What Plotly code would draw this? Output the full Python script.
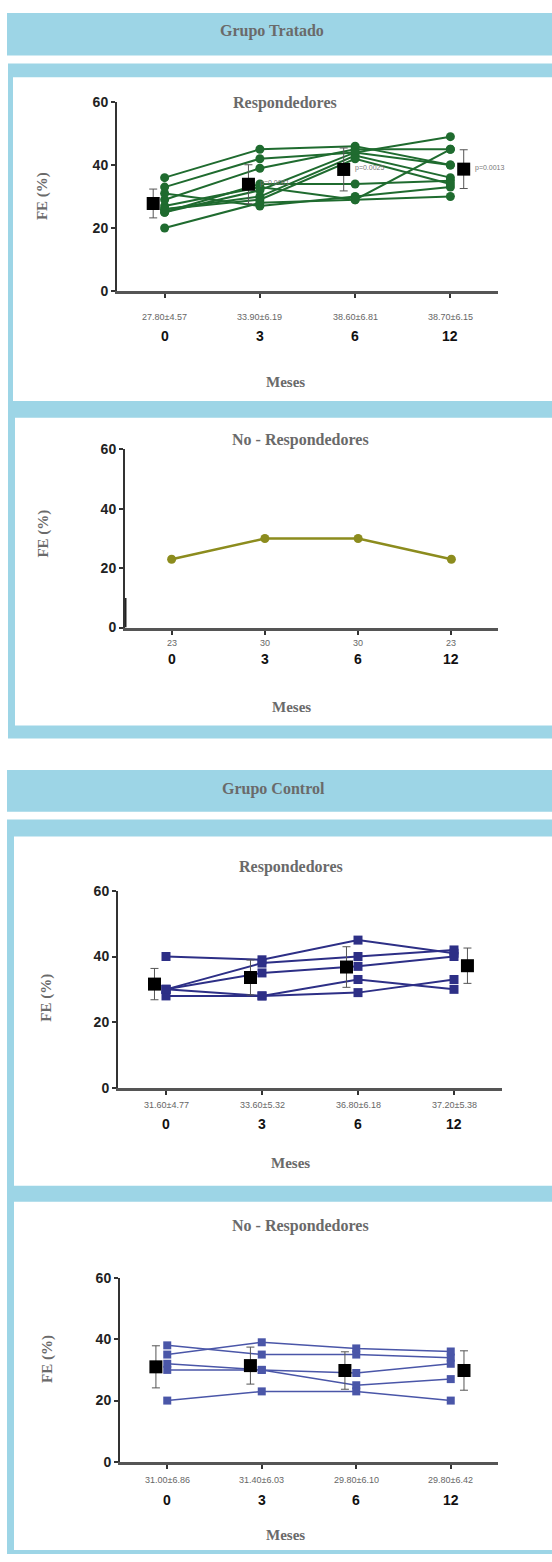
import plotly.graph_objects as go

W, H = 552, 1562
MONTHS = ["0", "3", "6", "12"]

# Grupo Tratado - Respondedores: FE (%) per patient at 0, 3, 6, 12 months
trat_resp = [
    [36, 45, 46, 40],
    [33, 42, 44, 49],
    [31, 27, 30, 33],
    [29, 39, 45, 45],
    [27, 33, 29, 30],
    [26, 30, 43, 36],
    [25, 34, 34, 35],
    [25, 32, 44, 40],
    [26, 29, 42, 34],
    [20, 28, 29, 45],
]
trat_resp_mean = [27.80, 33.90, 38.60, 38.70]
trat_resp_sd = [4.57, 6.19, 6.81, 6.15]
trat_resp_p = ["", "p=0.0081", "p=0.0025", "p=0.0013"]

# Grupo Tratado - No Respondedores
trat_noresp = [23, 30, 30, 23]

# Grupo Control - Respondedores
ctrl_resp = [
    [40, 39, 45, 41],
    [30, 38, 40, 42],
    [30, 35, 37, 40],
    [28, 28, 29, 33],
    [30, 28, 33, 30],
]
ctrl_resp_mean = [31.60, 33.60, 36.80, 37.20]
ctrl_resp_sd = [4.77, 5.32, 6.18, 5.38]

# Grupo Control - No Respondedores
ctrl_noresp = [
    [38, 35, 35, 34],
    [35, 39, 37, 36],
    [32, 30, 25, 27],
    [30, 30, 29, 32],
    [20, 23, 23, 20],
]
ctrl_noresp_mean = [31.00, 31.40, 29.80, 29.80]
ctrl_noresp_sd = [6.86, 6.03, 6.10, 6.42]

# ---------------------------------------------------------------- styling
BLUE = "#9dd5e6"
SERIF = "Liberation Serif"
SANS = "Liberation Sans"
TITLE_GRAY = "#6a6a6a"
MEAN_SHIFT = [-0.12, -0.12, -0.12, 0.14]
XPOS = [0, 1, 2, 3]


def px(x):
    return x / W


def py(y):
    return 1 - y / H


fig = go.Figure()
shapes = []
annotations = []


def rect(x0, y0, x1, y1, color):
    shapes.append(dict(type="rect", xref="paper", yref="paper",
                       x0=px(x0), x1=px(x1), y0=py(y1), y1=py(y0),
                       fillcolor=color, line=dict(width=0), layer="below"))


def text(x, y, s, size=16, color=TITLE_GRAY, family=SERIF, angle=0):
    annotations.append(dict(xref="paper", yref="paper", x=px(x), y=py(y),
                            text=s, showarrow=False, textangle=angle,
                            xanchor="center", yanchor="middle",
                            font=dict(family=family, size=size, color=color)))


# panels
rect(7, 5, 552, 48, BLUE)
rect(8, 56, 552, 738, BLUE)
rect(13, 70, 552, 397, "white")
rect(15, 414, 552, 725, "white")
rect(7, 770, 552, 812, BLUE)
rect(7, 820, 552, 1562, BLUE)
rect(14, 837, 552, 1190, "white")
rect(14, 1206, 552, 1558, "white")

text(272, 23, "<b>Grupo Tratado</b>")
text(273, 789, "<b>Grupo Control</b>")


def setup_axes(i, x0, x1, y_top, y_bot):
    sx = "" if i == 1 else str(i)
    fig.update_layout({
        f"xaxis{sx}": dict(domain=[px(x0), px(x1)], range=[-0.5, 3.5],
                           anchor=f"y{sx}", showline=True, linecolor="#555",
                           linewidth=3, ticks="outside", tickvals=XPOS,
                           ticklen=4, tickwidth=1.5, tickcolor="#333",
                           showticklabels=False, showgrid=False,
                           zeroline=False, fixedrange=True),
        f"yaxis{sx}": dict(domain=[py(y_bot), py(y_top)], range=[0, 60],
                           anchor=f"x{sx}", showline=True, linecolor="#333",
                           linewidth=2, ticks="outside", ticklen=4,
                           tickwidth=1.5, tickcolor="#333",
                           tickvals=[0, 20, 40, 60],
                           tickfont=dict(family=SANS, size=14, color="#222",
                                         weight="bold"),
                           showgrid=False, zeroline=False, fixedrange=True),
    })
    return f"x{sx}", f"y{sx}"


def add_chart(i, box, title, title_xy, fe_xy, meses_xy, stat_y, cat_y,
              stats, rows, color, symbol, msize, lwidth,
              means=None, sds=None, pvals=None):
    xr, yr = setup_axes(i, *box)
    for r in rows:
        fig.add_trace(go.Scatter(
            x=XPOS, y=r, xaxis=xr, yaxis=yr, mode="lines+markers",
            line=dict(color=color, width=lwidth),
            marker=dict(color=color, size=msize, symbol=symbol),
            cliponaxis=False, showlegend=False, hoverinfo="skip"))
    if means is not None:
        fig.add_trace(go.Scatter(
            x=[p + s for p, s in zip(XPOS, MEAN_SHIFT)], y=means,
            xaxis=xr, yaxis=yr, mode="markers",
            marker=dict(color="black", size=13, symbol="square"),
            error_y=dict(type="data", array=sds, color="#555",
                         thickness=1, width=4),
            cliponaxis=False, showlegend=False, hoverinfo="skip"))
    if pvals:
        for k, p in enumerate(pvals):
            if p:
                annotations.append(dict(
                    xref=xr, yref=yr, x=XPOS[k] + MEAN_SHIFT[k] + 0.1,
                    y=means[k] + 0.5, text=p, showarrow=False,
                    xanchor="left", yanchor="middle",
                    font=dict(family=SANS, size=7, color="#777")))
    text(*title_xy, f"<b>{title}</b>")
    text(*fe_xy, "<b>FE (%)</b>", size=15, angle=-90)
    text(*meses_xy, "<b>Meses</b>", size=15)
    for k in range(4):
        annotations.append(dict(xref=xr, yref="paper", x=XPOS[k],
                                y=py(stat_y), text=stats[k], showarrow=False,
                                xanchor="center", yanchor="middle",
                                font=dict(family=SANS, size=9, color="#666")))
        annotations.append(dict(xref=xr, yref="paper", x=XPOS[k],
                                y=py(cat_y), text=f"<b>{MONTHS[k]}</b>",
                                showarrow=False, xanchor="center",
                                yanchor="middle",
                                font=dict(family=SANS, size=14, color="#111")))


def fmt(m, s):
    return f"{m:.2f}±{s:.2f}"


add_chart(1, (117, 498, 95, 286), "Respondedores", (285, 96), (42, 190),
          (285, 378), 312, 331,
          [fmt(m, s) for m, s in zip(trat_resp_mean, trat_resp_sd)],
          trat_resp, "#1f6b2f", "circle", 9, 2,
          trat_resp_mean, trat_resp_sd, trat_resp_p)

add_chart(2, (125, 498, 446, 626), "No - Respondedores", (300, 436),
          (44, 531), (291, 706), 642, 658,
          [str(v) for v in trat_noresp],
          [trat_noresp], "#8c8c1e", "circle", 9, 2.5)
# darker base segment on the y axis of the second chart
shapes.append(dict(type="line", xref="x2", yref="y2", x0=-0.5, x1=-0.5,
                   y0=0, y1=10, line=dict(color="#222", width=3)))

add_chart(3, (118, 502, 892, 1091), "Respondedores", (291, 868),
          (47, 1000), (290, 1167), 1108, 1128,
          [fmt(m, s) for m, s in zip(ctrl_resp_mean, ctrl_resp_sd)],
          ctrl_resp, "#2d2f86", "square", 9, 2,
          ctrl_resp_mean, ctrl_resp_sd)

add_chart(4, (120, 498, 1283, 1469), "No - Respondedores", (300, 1231),
          (47, 1365), (285, 1543), 1487, 1507,
          [fmt(m, s) for m, s in zip(ctrl_noresp_mean, ctrl_noresp_sd)],
          ctrl_noresp, "#4a56a8", "square", 8, 1.5,
          ctrl_noresp_mean, ctrl_noresp_sd)

fig.update_layout(width=W, height=H, margin=dict(l=0, r=0, t=0, b=0),
                  paper_bgcolor="white", plot_bgcolor="rgba(0,0,0,0)",
                  shapes=shapes, annotations=annotations, showlegend=False)

fig.write_html("out.html", config={"displayModeBar": False},
               post_script="document.body.style.margin = '0';")
